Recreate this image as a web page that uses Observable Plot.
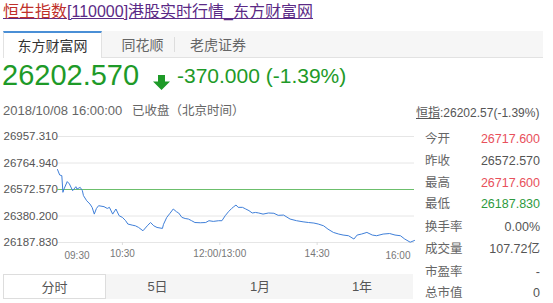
<!DOCTYPE html>
<html>
<head>
<meta charset="utf-8">
<script src="https://cdn.jsdelivr.net/npm/d3@7"></script>
<script src="https://cdn.jsdelivr.net/npm/@observablehq/plot@0.6"></script>
<style>
  html, body { margin: 0; padding: 0; background: #fff; }
  body { width: 553px; height: 303px; overflow: hidden; position: relative;
         font-family: "Liberation Sans", Arial, "Noto Sans CJK SC", sans-serif; }
  .abs { position: absolute; white-space: nowrap; }
  #title { left: 3px; top: 2px; font-size: 16px; line-height: 20px; text-decoration: underline; color: #5b2a86; }
  #title .hl { color: #c0302a; }
  #tabs { left: 3px; top: 31px; width: 540px; height: 26px; background: #f6f6f6; border-bottom: 1px solid #e2e2e2; }
  .tab { position: absolute; top: 0; height: 26px; line-height: 28px; font-size: 14px; color: #666; text-align: center; }
  .tab.active { background: #fff; color: #333; border-top: 2px solid #4a8fd6; border-left: 1px solid #e2e2e2; border-right: 1px solid #e2e2e2; height: 25px; line-height: 26px; }
  .sep { position: absolute; top: 6px; width: 1px; height: 15px; background: #ddd; }
  #price { left: 2px; top: 61px; font-size: 29px; line-height: 28px; color: #1e9a28; }
  #chg { left: 177px; top: 64px; font-size: 21px; line-height: 24px; color: #1e9a28; }
  #arrow { left: 153px; top: 75px; }
  #time { left: 3px; top: 103px; font-size: 13px; line-height: 16px; color: #666; }
  #status { left: 132px; top: 103px; font-size: 12.5px; line-height: 16px; color: #666; }
  #hsi { left: 416px; top: 105px; font-size: 12px; line-height: 16px; color: #555; }
  #hsi u { text-decoration: underline; }
  .lab { left: 425px; font-size: 12.5px; line-height: 16px; color: #666; }
  .val { left: 440px; width: 100px; text-align: right; font-size: 12.5px; line-height: 16px; color: #555; }
  .btn { position: absolute; top: 274px; height: 25px; line-height: 25px; font-size: 13px; color: #555; text-align: center; background: #f5f5f5; }
  .btn.active { background: #fff; border: 1px solid #ddd; box-sizing: border-box; }
  #chart { left: 0; top: 125px; }
</style>
</head>
<body>
<div id="root"></div>
<script>
// ---- data ----
const titleHead = "恒生指数";
const titleTail = "[110000]港股实时行情_东方财富网";
const tabNames = ["东方财富网", "同花顺", "老虎证券"];
const lastPrice = "26202.570";
const change = "-370.000 (-1.39%)";
const timeText = "2018/10/08 16:00:00";
const statusText = "已收盘（北京时间）";
const hsiLabel = "恒指";
const hsiText = ":26202.57(-1.39%)";
const statLabels = ["今开", "昨收", "最高", "最低", "换手率", "成交量", "市盈率", "总市值"];
const statValues = ["26717.600", "26572.570", "26717.600", "26187.830", "0.00%", "107.72亿", "-", "0"];
const statTone = ["up", "flat", "up", "down", "flat", "flat", "flat", "flat"];
const periodNames = ["分时", "5日", "1月", "1年"];

const prevClose = 26572.57;
const yTicks = [26187.83, 26380.20, 26572.57, 26764.94, 26957.31];
const xTickPos = [60, 150, 240];
const xTickLabels = ["10:30", "12:00/13:00", "14:30"];
const xEndLabels = ["09:30", "16:00"];
// trading minutes since 09:30 (lunch break removed) and index level
const minutes = [0,2,4,5,6,9,11,14,17,18,21,23,24,27,30,32,34,36,38,43,46,48,51,54,57,60,63,65,69,72,75,79,83,86,89,92,97,98,101,104,107,110,112,115,118,121,124,127,132,137,140,144,149,152,155,158,161,163,165,167,171,174,177,180,183,186,190,195,200,204,209,215,221,227,232,237,241,246,250,255,260,264,269,274,277,281,286,291,295,301,307,312,317,321,326,330];
const levels = [26717.6,26678,26673,26552,26576,26630,26613,26564,26593,26576,26588,26564,26528,26491,26467,26443,26394,26435,26455,26448,26435,26443,26394,26431,26382,26370,26346,26322,26314,26309,26297,26273,26309,26333,26309,26297,26290,26320,26370,26400,26431,26411,26402,26370,26362,26358,26346,26333,26331,26333,26346,26341,26346,26346,26382,26411,26435,26448,26460,26443,26443,26431,26419,26402,26406,26402,26394,26402,26400,26385,26387,26358,26346,26338,26333,26329,26322,26309,26285,26261,26249,26242,26237,26213,26242,26249,26261,26242,26237,26249,26253,26242,26237,26213,26190,26202.57];

// ---- layout (HTML parts) ----
const root = document.getElementById("root");
function el(tag, cls, id, html, style) {
  const e = document.createElement(tag);
  if (cls) e.className = cls;
  if (id) e.id = id;
  if (html != null) e.innerHTML = html;
  if (style) Object.assign(e.style, style);
  root.appendChild(e);
  return e;
}
el("div", "abs", "title", `<span class="hl">${titleHead}</span>${titleTail}`);
const tabs = el("div", "abs", "tabs");
const tabX = [[0, 97], [107, 65], [180, 70]];
tabNames.forEach((t, i) => {
  const d = document.createElement("div");
  d.className = "tab" + (i === 0 ? " active" : "");
  d.textContent = t;
  Object.assign(d.style, { left: tabX[i][0] + "px", width: tabX[i][1] + "px" });
  tabs.appendChild(d);
});
const sep = document.createElement("div"); sep.className = "sep"; sep.style.left = "171px"; tabs.appendChild(sep);

el("div", "abs", "price", lastPrice);
el("div", "abs", "arrow", `<svg width="17" height="15" viewBox="0 0 17 15"><path d="M5 0 H12 V6.5 H17 L8.5 15 L0 6.5 H5 Z" fill="#1e9a28"/></svg>`);
el("div", "abs", "chg", change);
el("div", "abs", "time", timeText);
el("div", "abs", "status", statusText);
el("div", "abs", "hsi", `<u>${hsiLabel}</u>${hsiText}`);
const rowTops = [131, 153, 175, 196, 219, 241, 264, 285];
const toneColor = { up: "#e8505b", down: "#2e9a3e", flat: "#555" };
statLabels.forEach((l, i) => {
  el("div", "abs lab", null, l, { top: rowTops[i] + "px" });
  el("div", "abs val", null, statValues[i], { top: rowTops[i] + "px", color: toneColor[statTone[i]] });
});
const btnX = [3, 106, 209, 311, 413];
periodNames.forEach((p, i) => {
  el("div", "btn" + (i === 0 ? " active" : ""), null, p, { left: btnX[i] + "px", width: (btnX[i + 1] - btnX[i]) + "px" });
});

// ---- chart ----
const data = minutes.map((m, i) => ({ m, v: levels[i] }));
const chart = Plot.plot({
  width: 420,
  height: 140,
  marginLeft: 57,
  marginRight: 6,
  marginTop: 11,
  marginBottom: 23,
  style: { fontFamily: '"Liberation Sans", Arial, sans-serif', background: "transparent", overflow: "visible" },
  x: { domain: [0, 330] },
  y: { domain: [yTicks[0], yTicks[yTicks.length - 1]] },
  marks: [
    Plot.ruleY(yTicks.filter(t => t !== prevClose), { stroke: "#e6e6e6", strokeWidth: 1 }),
    Plot.axisY(yTicks, { tickSize: 0, tickPadding: 0, textAnchor: "start", dx: -54, tickFormat: d => d.toFixed(3), fill: "#555", fontSize: 11.5, label: null }),
    Plot.axisX(xTickPos, { tickSize: 3, tickPadding: 4, stroke: "#ddd", fill: "#777", fontSize: 10, tickFormat: (d, i) => xTickLabels[i], label: null }),
    Plot.text([0], { x: d => d, frameAnchor: "bottom", dy: 16, dx: 7, text: () => xEndLabels[0], textAnchor: "start", fill: "#777", fontSize: 10 }),
    Plot.text([330], { x: d => d, frameAnchor: "bottom", dy: 16, dx: -4, text: () => xEndLabels[1], textAnchor: "end", fill: "#777", fontSize: 10 }),
    Plot.ruleY([prevClose], { stroke: "#6cbf6c", strokeWidth: 1 }),
    Plot.line(data, { x: "m", y: "v", stroke: "#3f7fd9", strokeWidth: 1 })
  ]
});
chart.id = "chart";
chart.classList.add("abs");
chart.style.position = "absolute";
root.appendChild(chart);
</script>
</body>
</html>
